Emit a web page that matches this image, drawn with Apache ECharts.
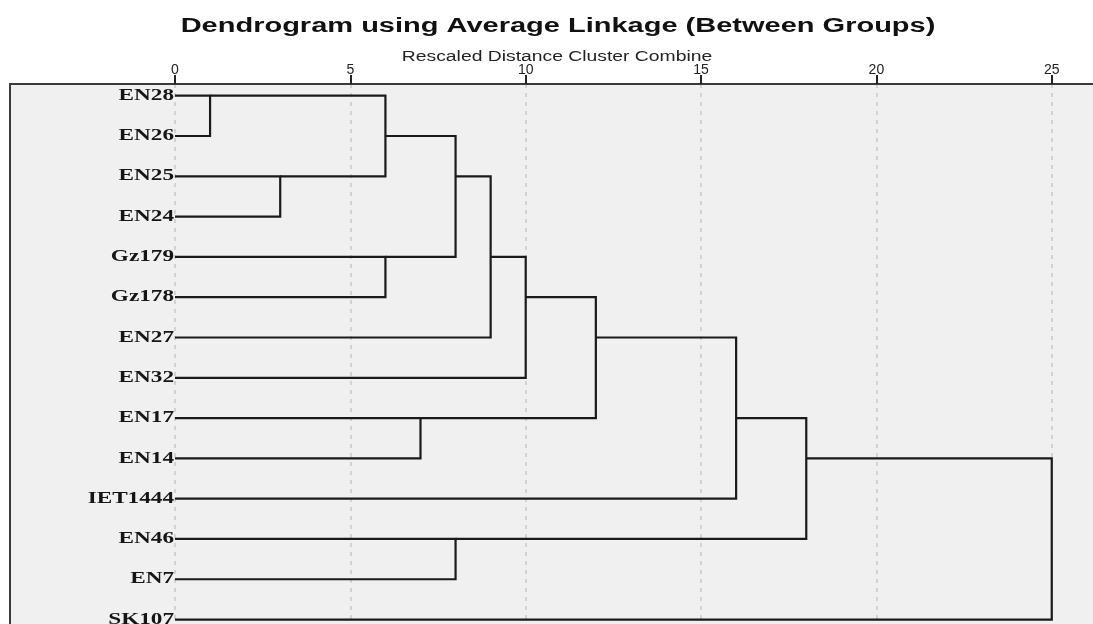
<!DOCTYPE html>
<html><head><meta charset="utf-8">
<script src="https://cdn.jsdelivr.net/npm/echarts@6/dist/echarts.min.js"></script>
<style>html,body{margin:0;padding:0;background:#fff}#c{width:1093px;height:624px}</style>
</head><body><div id="c"></div>
<script>
// ---- data ----
const leaves = ['EN28','EN26','EN25','EN24','Gz179','Gz178','EN27','EN32','EN17','EN14','IET1444','EN46','EN7','SK107'];
// merge steps: ids 0..13 are leaves, id 14+k is the cluster created by step k
const mergeA    = [0, 2, 14, 4, 16, 18, 19, 8, 20, 22, 11, 23, 25];
const mergeB    = [1, 3, 15, 5, 17,  6,  7, 9, 21, 10, 12, 24, 13];
const mergeDist = [1, 3,  6, 6,  8,  9, 10, 7, 12, 16,  8, 18, 25];
const tickValues = [0, 5, 10, 15, 20, 25];
const titleText = 'Dendrogram using Average Linkage (Between Groups)';
const subtitleText = 'Rescaled Distance Cluster Combine';

// ---- build links (SPSS-style row placement) ----
const rowOf = leaves.map((_, i) => i);
const distOf = leaves.map(() => 0);
const links = [];
mergeA.forEach((a, k) => {
  const b = mergeB[k], d = mergeDist[k];
  const ra = rowOf[a], rb = rowOf[b];
  links.push([distOf[a], ra, d, rb, distOf[b]]);
  rowOf.push(Math.floor((ra + rb) / 2));
  distOf.push(d);
});

const frameLine = {show: true, onZero: false, lineStyle: {color: '#3a3a3a', width: 2}};

const chart = echarts.init(document.getElementById('c'), null, {renderer: 'canvas'});
chart.setOption({
  backgroundColor: '#ffffff',
  animation: false,
  graphic: [
    {type: 'text', x: 558, y: 26, scaleX: 1.45,
     style: {text: titleText, font: 'bold 20px "Liberation Sans", Arial, sans-serif', fill: '#111', align: 'center', verticalAlign: 'middle'}},
    {type: 'text', x: 557, y: 57, scaleX: 1.38,
     style: {text: subtitleText, font: '14px "Liberation Sans", Arial, sans-serif', fill: '#222', align: 'center', verticalAlign: 'middle'}}
  ],
  grid: {left: 10, top: 84, right: 0, bottom: 0, show: true,
         backgroundColor: '#f0f0f0', borderWidth: 0},
  xAxis: {
    type: 'value', position: 'top', min: -4.705, max: 26.176,
    axisLine: frameLine,
    axisTick: {show: true, length: 9, customValues: tickValues, lineStyle: {color: '#222', width: 2}},
    axisLabel: {customValues: tickValues, margin: 7, fontSize: 14, fontFamily: '"Liberation Sans", Arial, sans-serif', color: '#222'},
    splitLine: {show: true, lineStyle: {color: '#c8c8c8', type: [4, 5], width: 1.5}}
  },
  yAxis: {type: 'value', inverse: true, min: -0.29, max: 13.11, position: 'left',
          axisLine: frameLine, axisTick: {show: false}, axisLabel: {show: false}, splitLine: {show: false}},
  series: [
    {
      type: 'custom', name: 'links', clip: false,
      data: links,
      encode: {x: [0, 2, 4], y: [1, 3]},
      renderItem: function (params, api) {
        const p1 = api.coord([api.value(0), api.value(1)]);
        const p2 = api.coord([api.value(2), api.value(1)]);
        const p3 = api.coord([api.value(2), api.value(3)]);
        const p4 = api.coord([api.value(4), api.value(3)]);
        return {type: 'polyline', shape: {points: [p1, p2, p3, p4]},
                style: {stroke: '#1a1a1a', lineWidth: 2.2, fill: null, lineJoin: 'miter', lineCap: 'butt'}};
      }
    },
    {
      type: 'custom', name: 'labels', clip: false,
      data: leaves.map((n, i) => [0, i]),
      encode: {x: 0, y: 1},
      renderItem: function (params, api) {
        const p = api.coord([api.value(0), api.value(1)]);
        return {type: 'text', x: p[0] - 1, y: p[1], scaleX: 1.45,
                style: {text: leaves[params.dataIndex], font: 'bold 16px "Liberation Serif", "Times New Roman", serif',
                        fill: '#151515', align: 'right', verticalAlign: 'middle'}};
      }
    }
  ]
});
</script></body></html>
